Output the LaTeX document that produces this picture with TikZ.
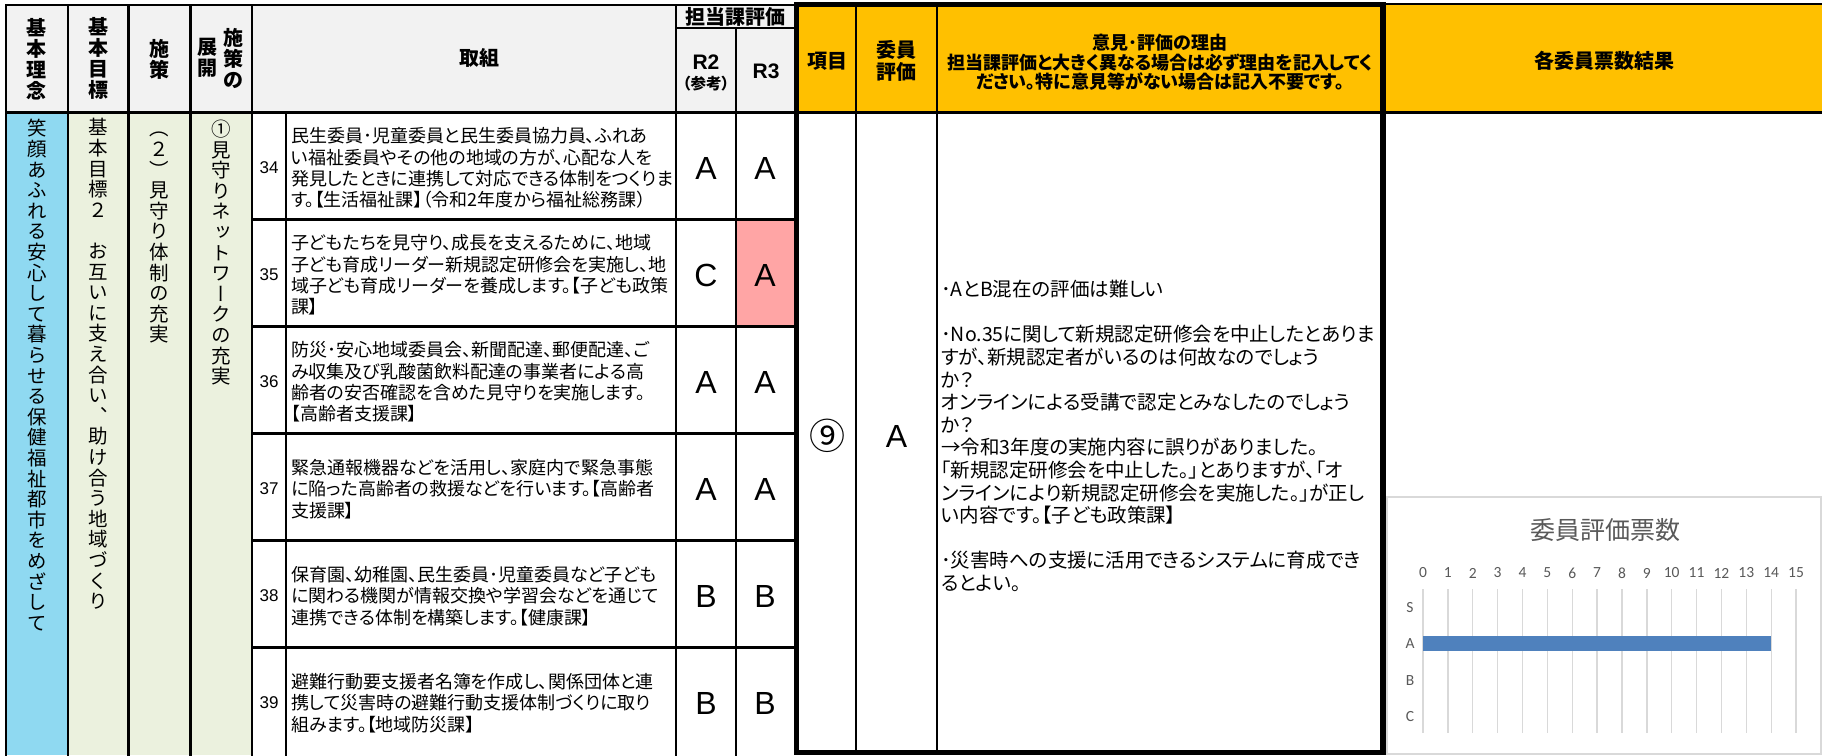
\documentclass[tikz,border=0pt]{standalone}
\usepackage{fontspec}
\setmainfont{Liberation Sans}
\newfontfamily\jp[RawFeature=+palt]{Noto Sans CJK JP}
\newfontfamily\jpv[RawFeature=+vert]{Noto Sans CJK JP}
\newfontfamily\carl{Carlito}
\definecolor{hdrgray}{RGB}{242,242,242}
\definecolor{lblue}{RGB}{143,217,241}
\definecolor{lgreen}{RGB}{235,241,222}
\definecolor{pinkc}{RGB}{255,165,165}
\definecolor{orangeh}{RGB}{255,192,0}
\definecolor{barblue}{RGB}{79,129,189}
\definecolor{gridc}{RGB}{217,217,217}
\definecolor{charttxt}{RGB}{89,89,89}
\begin{document}
\begin{tikzpicture}[x=1pt,y=-1pt,
  tline/.style={line width=2.4pt,line cap=rect},
  vch/.style={font=\jpv\fontsize{19.5}{19.5}\selectfont,anchor=base,inner sep=0pt},
  vhd/.style={font=\jp\bfseries\fontsize{20}{20}\selectfont,anchor=base,inner sep=0pt},
  bodytxt/.style={font=\jp\fontsize{18}{21.4}\selectfont,align=left,anchor=west,inner sep=0pt},
  cmtxt/.style={font=\jp\fontsize{19.5}{22.6}\selectfont,align=left,anchor=west,inner sep=0pt},
  grade/.style={font=\fontsize{32}{32}\selectfont,inner sep=0pt},
  numtxt/.style={font=\fontsize{17}{17}\selectfont,inner sep=0pt},
  hd/.style={font=\jp\bfseries\fontsize{20}{22}\selectfont,inner sep=0pt,align=center},
  ctxt/.style={text=charttxt,font=\carl\fontsize{15.5}{15.5}\selectfont,inner sep=0pt}]
\useasboundingbox (0,0) rectangle (1822,755);
\fill[white] (0,0) rectangle (1822,755);
% fills
\fill[hdrgray] (6,5) rectangle (794,112);
\fill[lblue] (6,112) rectangle (68,755);
\fill[lgreen] (68,112) rectangle (252,755);
\fill[pinkc] (736,219.5) rectangle (794,326.5);
\fill[orangeh] (794,4) rectangle (1822,112);
% left table lines
\draw[tline] (6,755) -- (6,5) -- (794,5);
\foreach \x in {68,128.5,190.5,252,676} \draw[tline] (\x,5) -- (\x,755);
\draw[tline] (286,112) -- (286,755);
\draw[tline] (736,28) -- (736,755);
\draw[tline] (676,28) -- (794,28);
\draw[line width=3pt] (6,112) -- (1822,112);
\foreach \y in {219.5,326.5,433.5,540.5,647.5} \draw[tline] (252,\y) -- (794,\y);
% right header top
\draw[line width=2pt] (1383,4) -- (1822,4);
% thick box
\draw[line width=2.4pt] (856,4) -- (856,753);
\draw[line width=2.4pt] (937,4) -- (937,753);
\draw[line width=5.5pt] (796.5,4.5) rectangle (1383,752.5);
% header vertical texts
\foreach \c [count=\i from 0] in {基,本,理,念} \node[vhd] (h1\i) at (37,{35.6+21*\i}) {\c};
\foreach \c [count=\i from 0] in {基,本,目,標} \node[vhd] (h2\i) at (98.5,{34.6+21*\i}) {\c};
\foreach \c [count=\i from 0] in {施,策} \node[vhd] (h3\i) at (159.5,{56.6+21*\i}) {\c};
\foreach \c [count=\i from 0] in {施,策,の} \node[vhd] (h4\i) at (233,{45.6+21*\i}) {\c};
\foreach \c [count=\i from 0] in {展,開} \node[vhd] (h5\i) at (207,{54.6+21*\i}) {\c};
\node[hd] (htori) at (479,58) {取組};
\node[hd] (htan) at (735,16.5) {担当課評価};
\node[font=\bfseries\fontsize{21}{21}\selectfont,inner sep=0pt] (hr2) at (706,62) {R2};
\node[font=\jp\bfseries\fontsize{15.5}{15.5}\selectfont,inner sep=0pt] (hr2b) at (706,84) {（参考）};
\node[font=\bfseries\fontsize{21}{21}\selectfont,inner sep=0pt] (hr3) at (766,71) {R3};
\node[hd] (hkou) at (827,61) {項目};
\node[hd] (hiin) at (896.5,61) {委員\\評価};
\node[hd,font=\jp\bfseries\fontsize{18}{19.5}\selectfont] (hike) at (1160,62.5) {意見･評価の理由\\担当課評価と大きく異なる場合は必ず理由を記入してく\\ださい。特に意見等がない場合は記入不要です。};
\node[hd] (hkaku) at (1604,61) {各委員票数結果};
% vertical data texts
\foreach \c [count=\i from 0] in {笑,顔,あ,ふ,れ,る,安,心,し,て,暮,ら,せ,る,保,健,福,祉,都,市,を,め,ざ,し,て}
  \node[vch] (v1\i) at (37,{135.9+20.6*\i}) {\c};
\foreach \c [count=\i from 0] in {基,本,目,標,２,{},お,互,い,に,支,え,合,い,、,助,け,合,う,地,域,づ,く,り}
  \node[vch] (v2\i) at (98.5,{134.9+20.6*\i}) {\c};
\foreach \c [count=\i from 0] in {（,２,）,見,守,り,体,制,の,充,実}
  \node[vch] (v3\i) at (159.5,{135.9+20.6*\i}) {\c};
\foreach \c [count=\i from 0] in {①,見,守,り,ネ,ッ,ト,ワ,ー,ク,の,充,実}
  \node[vch] (v4\i) at (221,{136.4+20.6*\i}) {\c};
% numbers
\foreach \n [count=\i from 0] in {34,35,36,37,38,39}
  \node[numtxt] (n\n) at (269,{168+107*\i}) {\n};
% body texts
\node[bodytxt] (t34) at (291,168) {民生委員･児童委員と民生委員協力員、ふれあ\\い福祉委員やその他の地域の方が、心配な人を\\発見したときに連携して対応できる体制をつくりま\\す。【生活福祉課】（令和2年度から福祉総務課）};
\node[bodytxt] (t35) at (291,275) {子どもたちを見守り、成長を支えるために、地域\\子ども育成リーダー新規認定研修会を実施し、地\\域子ども育成リーダーを養成します。【子ども政策\\課】};
\node[bodytxt] (t36) at (291,382) {防災･安心地域委員会、新聞配達、郵便配達、ご\\み収集及び乳酸菌飲料配達の事業者による高\\齢者の安否確認を含めた見守りを実施します。\\【高齢者支援課】};
\node[bodytxt] (t37) at (291,489) {緊急通報機器などを活用し、家庭内で緊急事態\\に陥った高齢者の救援などを行います。【高齢者\\支援課】};
\node[bodytxt] (t38) at (291,596) {保育園、幼稚園、民生委員･児童委員など子ども\\に関わる機関が情報交換や学習会などを通じて\\連携できる体制を構築します。【健康課】};
\node[bodytxt] (t39) at (291,703) {避難行動要支援者名簿を作成し、関係団体と連\\携して災害時の避難行動支援体制づくりに取り\\組みます。【地域防災課】};
% grades
\foreach \g [count=\i from 0] in {A,C,A,A,B,B} \node[grade] (g2\i) at (706,{168+107*\i}) {\g};
\foreach \g [count=\i from 0] in {A,A,A,A,B,B} \node[grade] (g3\i) at (765,{168+107*\i}) {\g};
% committee column
\node[font=\jp\fontsize{36}{36}\selectfont,inner sep=0pt] (item) at (827,436) {⑨};
\node[grade] (ieval) at (896.5,436) {A};
\node[cmtxt] (cm) at (941,436) {･AとB混在の評価は難しい\\[22.6pt]･No.35に関して新規認定研修会を中止したとありま\\すが、新規認定者がいるのは何故なのでしょう\\か？\\オンラインによる受講で認定とみなしたのでしょう\\か？\\→令和3年度の実施内容に誤りがありました。\\「新規認定研修会を中止した。」とありますが、「オ\\ンラインにより新規認定研修会を実施した。」が正し\\い内容です。【子ども政策課】\\[22.6pt]･災害時への支援に活用できるシステムに育成でき\\るとよい。};
% chart
\draw[gridc,line width=1.2pt] (1387,497) rectangle (1821,754);
\node[text=charttxt,font=\jp\fontsize{25}{25}\selectfont,inner sep=0pt] (ctitle) at (1605,530) {委員評価票数};
\foreach \k in {0,...,15} {
  \draw[gridc,line width=1.3pt] ({1423+24.87*\k},589) -- ({1423+24.87*\k},733);
  \node[ctxt] (ax\k) at ({1423+24.87*\k},573) {\k};
}
\foreach \c [count=\i from 0] in {S,A,B,C} \node[ctxt] (cat\c) at (1410,{607.5+36.3*\i}) {\c};
\fill[barblue] (1423,636) rectangle ({1423+24.87*14},651);
\end{tikzpicture}
\end{document}
